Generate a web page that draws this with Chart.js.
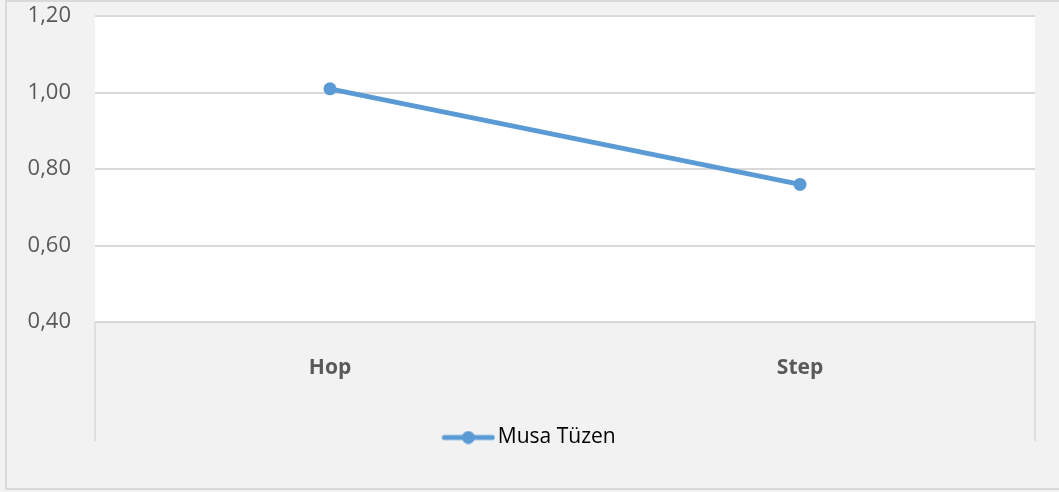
<!DOCTYPE html>
<html>
<head>
<meta charset="utf-8">
<script src="https://cdn.jsdelivr.net/npm/chart.js@4/dist/chart.umd.min.js"></script>
<style>
  body { margin: 0; background: #f2f2f2; }
  #wrap { width: 1059px; height: 492px; }
</style>
</head>
<body>
<div id="wrap"><canvas id="chart" width="1059" height="492"></canvas></div>
<script>
// dados do gráfico
const categories = ['Hop', 'Step'];
const seriesName = 'Musa Tüzen';
const seriesValues = [1.01, 0.76];
const yTicks = [0.40, 0.60, 0.80, 1.00, 1.20];

const blue = '#5b9bd5';
const textColor = '#595959';
const gridColor = '#d9d9d9';

// simbolo da legenda: linha com bolinha (desenhado um pouco para a direita)
const legendIcon = document.createElement('canvas');
legendIcon.width = 60;
legendIcon.height = 14;
const ictx = legendIcon.getContext('2d');
ictx.strokeStyle = blue;
ictx.lineWidth = 5;
ictx.lineCap = 'round';
ictx.beginPath();
ictx.moveTo(9, 7);
ictx.lineTo(57, 7);
ictx.stroke();
ictx.fillStyle = blue;
ictx.beginPath();
ictx.arc(33, 7, 6.5, 0, Math.PI * 2);
ictx.fill();

// fundo branco da area e bordas
const areaPlugin = {
  id: 'areaPlugin',
  beforeDraw(chart) {
    const { ctx, chartArea } = chart;
    ctx.save();
    ctx.fillStyle = '#f2f2f2';
    ctx.fillRect(0, 0, chart.width, chart.height);
    ctx.strokeStyle = gridColor;
    ctx.lineWidth = 2;
    ctx.strokeRect(6, 1, 1100, 488);
    ctx.fillStyle = '#ffffff';
    ctx.fillRect(chartArea.left, chartArea.top, chartArea.right - chartArea.left, chartArea.bottom - chartArea.top);
    ctx.lineWidth = 1.5;
    ctx.beginPath();
    ctx.moveTo(chartArea.left, chartArea.bottom);
    ctx.lineTo(chartArea.left, 441);
    ctx.moveTo(chartArea.right, chartArea.bottom);
    ctx.lineTo(chartArea.right, 441);
    ctx.stroke();
    ctx.restore();
  }
};

new Chart(document.getElementById('chart'), {
  type: 'line',
  data: {
    labels: categories,
    datasets: [{
      label: seriesName,
      data: seriesValues,
      borderColor: blue,
      backgroundColor: blue,
      borderWidth: 5,
      pointRadius: 6.5,
      pointHoverRadius: 6.5,
      pointBackgroundColor: blue,
      pointBorderWidth: 0,
      tension: 0
    }]
  },
  options: {
    responsive: false,
    animation: false,
    layout: { padding: { top: 0, right: 0, bottom: 34, left: 0 } },
    scales: {
      x: {
        offset: true,
        grid: { display: false },
        border: { display: false },
        ticks: { color: textColor, padding: 25, font: { family: 'Open Sans', size: 21, weight: 'bold' } },
        afterFit(scale) { scale.height = 95; }
      },
      y: {
        min: 0.4,
        max: 1.2,
        afterBuildTicks(scale) { scale.ticks = yTicks.map(v => ({ value: v })); },
        // marcas invisiveis para afastar os rotulos sem aumentar o topo
        grid: { color: gridColor, lineWidth: 2, drawTicks: true, tickLength: 21, tickColor: 'rgba(0,0,0,0)' },
        border: { display: false },
        ticks: {
          color: textColor,
          padding: 3,
          font: { family: 'Open Sans', size: 22 },
          callback: v => v.toFixed(2).replace('.', ',')
        },
        afterFit(scale) { scale.width = 95; }
      },
      // eixo vazio so para reservar a margem da direita
      yRight: {
        position: 'right',
        grid: { display: false },
        border: { display: false },
        ticks: { display: false },
        afterFit(scale) { scale.width = 24; }
      }
    },
    plugins: {
      legend: {
        position: 'bottom',
        labels: {
          color: textColor,
          font: { family: 'Open Sans', size: 21 },
          usePointStyle: true,
          pointStyleWidth: 44,
          padding: 10,
          generateLabels: chart => [{
            text: seriesName,
            pointStyle: legendIcon,
            fillStyle: blue,
            strokeStyle: blue,
            lineWidth: 0,
            datasetIndex: 0
          }]
        }
      },
      tooltip: { enabled: false }
    }
  },
  plugins: [areaPlugin]
});
</script>
</body>
</html>
